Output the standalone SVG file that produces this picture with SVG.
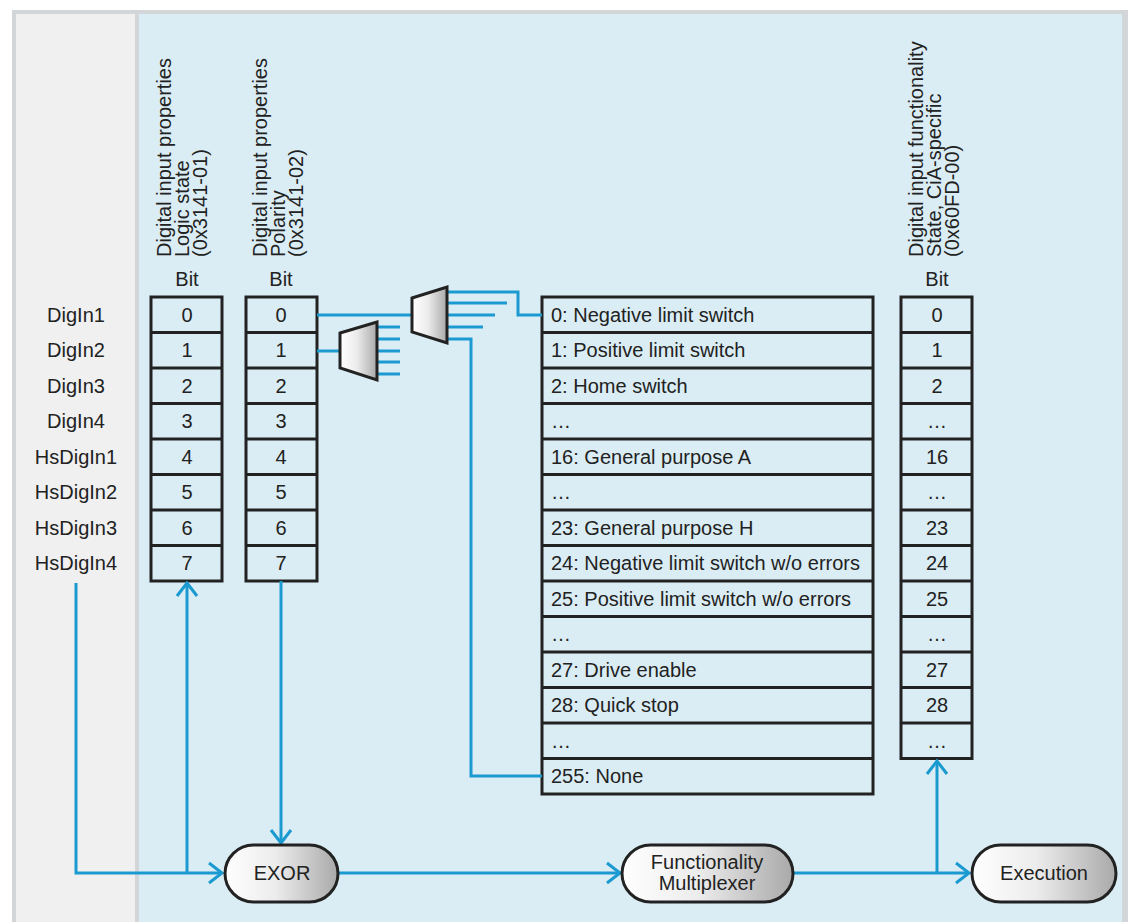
<svg xmlns="http://www.w3.org/2000/svg" width="1128" height="922" viewBox="0 0 1128 922">
<defs>
<linearGradient id="gShade" x1="0" y1="0" x2="1" y2="0">
<stop offset="0" stop-color="#ffffff"/>
<stop offset="0.45" stop-color="#ececec"/>
<stop offset="1" stop-color="#a9a9a9"/>
</linearGradient>
<marker id="arr" viewBox="-16 -13 19 26" markerWidth="19" markerHeight="26" refX="0" refY="0" orient="auto" markerUnits="userSpaceOnUse">
<path d="M-13,-10 L0,0 L-13,10" fill="none" stroke="#1a9ad0" stroke-width="3"/>
</marker>
<style>
text{font-family:"Liberation Sans",Arial,sans-serif;font-size:20px;fill:#222}
.c{text-anchor:middle}
.tbl{fill:none;stroke:#222;stroke-width:3}
.wire{fill:none;stroke:#1a9ad0;stroke-width:3}
.pill{fill:url(#gShade);stroke:#222;stroke-width:3}
</style>
</defs>

<!-- background -->
<rect x="12" y="10" width="1116" height="912" fill="#d3d6d8"/>
<rect x="16" y="14" width="119" height="908" fill="#f0f0f0"/>
<rect x="139" y="14" width="983" height="908" fill="#dbedf4"/>

<!-- rotated headers -->
<g id="hdr1">
<text transform="translate(171,257) rotate(-90)">Digital input properties<tspan x="0" dy="18">Logic state</tspan><tspan x="0" dy="18">(0x3141-01)</tspan></text>
<text class="c" x="187" y="286">Bit</text>
</g>
<g id="hdr2">
<text transform="translate(267,257) rotate(-90)">Digital input properties<tspan x="0" dy="18">Polarity</tspan><tspan x="0" dy="18">(0x3141-02)</tspan></text>
<text class="c" x="281" y="286">Bit</text>
</g>
<g id="hdr3">
<text transform="translate(923,257) rotate(-90)">Digital input functionality<tspan x="0" dy="18">State, CiA-specific</tspan><tspan x="0" dy="18">(0x60FD-00)</tspan></text>
<text class="c" x="937" y="286">Bit</text>
</g>

<!-- input labels -->
<g id="inputs">
<text class="c" x="76" y="322">DigIn1</text>
<text class="c" x="76" y="357">DigIn2</text>
<text class="c" x="76" y="393">DigIn3</text>
<text class="c" x="76" y="428">DigIn4</text>
<text class="c" x="76" y="464">HsDigIn1</text>
<text class="c" x="76" y="499">HsDigIn2</text>
<text class="c" x="76" y="535">HsDigIn3</text>
<text class="c" x="76" y="570">HsDigIn4</text>
</g>

<!-- table: logic state -->
<g id="tblLogic">
<rect class="tbl" x="151" y="297" width="71" height="284"/>
<path class="tbl" d="M151,332.5H222M151,368H222M151,403.5H222M151,439H222M151,474.5H222M151,510H222M151,545.5H222"/>
<text class="c" x="187" y="322">0</text>
<text class="c" x="187" y="357">1</text>
<text class="c" x="187" y="393">2</text>
<text class="c" x="187" y="428">3</text>
<text class="c" x="187" y="464">4</text>
<text class="c" x="187" y="499">5</text>
<text class="c" x="187" y="535">6</text>
<text class="c" x="187" y="570">7</text>
</g>

<!-- table: polarity -->
<g id="tblPolarity">
<rect class="tbl" x="246" y="297" width="71" height="284"/>
<path class="tbl" d="M246,332.5H317M246,368H317M246,403.5H317M246,439H317M246,474.5H317M246,510H317M246,545.5H317"/>
<text class="c" x="281" y="322">0</text>
<text class="c" x="281" y="357">1</text>
<text class="c" x="281" y="393">2</text>
<text class="c" x="281" y="428">3</text>
<text class="c" x="281" y="464">4</text>
<text class="c" x="281" y="499">5</text>
<text class="c" x="281" y="535">6</text>
<text class="c" x="281" y="570">7</text>
</g>

<!-- table: functions -->
<g id="tblFunctions">
<rect class="tbl" x="542" y="297" width="331" height="497"/>
<path class="tbl" d="M542,332.5H873M542,368H873M542,403.5H873M542,439H873M542,474.5H873M542,510H873M542,545.5H873M542,581H873M542,616.5H873M542,652H873M542,687.5H873M542,723H873M542,758.5H873"/>
<text x="551" y="322">0: Negative limit switch</text>
<text x="551" y="357">1: Positive limit switch</text>
<text x="551" y="393">2: Home switch</text>
<text x="551" y="428">…</text>
<text x="551" y="464">16: General purpose A</text>
<text x="551" y="499">…</text>
<text x="551" y="535">23: General purpose H</text>
<text x="551" y="570">24: Negative limit switch w/o errors</text>
<text x="551" y="606">25: Positive limit switch w/o errors</text>
<text x="551" y="641">…</text>
<text x="551" y="677">27: Drive enable</text>
<text x="551" y="712">28: Quick stop</text>
<text x="551" y="748">…</text>
<text x="551" y="783">255: None</text>
</g>

<!-- table: state bits -->
<g id="tblState">
<rect class="tbl" x="901" y="297" width="71" height="461.5"/>
<path class="tbl" d="M901,332.5H972M901,368H972M901,403.5H972M901,439H972M901,474.5H972M901,510H972M901,545.5H972M901,581H972M901,616.5H972M901,652H972M901,687.5H972M901,723H972"/>
<text class="c" x="937" y="322">0</text>
<text class="c" x="937" y="357">1</text>
<text class="c" x="937" y="393">2</text>
<text class="c" x="937" y="428">…</text>
<text class="c" x="937" y="464">16</text>
<text class="c" x="937" y="499">…</text>
<text class="c" x="937" y="535">23</text>
<text class="c" x="937" y="570">24</text>
<text class="c" x="937" y="606">25</text>
<text class="c" x="937" y="641">…</text>
<text class="c" x="937" y="677">27</text>
<text class="c" x="937" y="712">28</text>
<text class="c" x="937" y="748">…</text>
</g>

<!-- connectors -->
<g id="connectors">
<path class="wire" d="M317,315H412"/>
<path class="wire" d="M317,351H340"/>
<path class="wire" d="M447,292H518V315H542"/>
<path class="wire" d="M447,303H507M447,315H495M447,327H483"/>
<path class="wire" d="M447,339H471V776H542"/>
<path class="wire" d="M377,327H400M377,339H400M377,351H400M377,362H400M377,374H400"/>
<path class="wire" d="M76,583V873H222" marker-end="url(#arr)"/>
<path class="wire" d="M187,873V583" marker-end="url(#arr)"/>
<path class="wire" d="M281,581V843" marker-end="url(#arr)"/>
<path class="wire" d="M339,873H620" marker-end="url(#arr)"/>
<path class="wire" d="M793,873H969" marker-end="url(#arr)"/>
<path class="wire" d="M937,873V761" marker-end="url(#arr)"/>
</g>

<!-- multiplexers -->
<g id="mux1">
<polygon points="412,298 447,287 447,343 412,332" fill="url(#gShade)" stroke="#222" stroke-width="3" stroke-linejoin="miter"/>
</g>
<g id="mux2">
<polygon points="340,333 377,322 377,380 340,368" fill="url(#gShade)" stroke="#222" stroke-width="3"/>
</g>

<!-- process nodes -->
<g id="exor">
<rect class="pill" x="225" y="845" width="113" height="57" rx="28.5"/>
<text class="c" x="282" y="880">EXOR</text>
</g>
<g id="funcMux">
<rect class="pill" x="622" y="845" width="171" height="57" rx="28.5"/>
<text class="c" x="707" y="869">Functionality</text>
<text class="c" x="707" y="890">Multiplexer</text>
</g>
<g id="execution">
<rect class="pill" x="972" y="845" width="144" height="57" rx="28.5"/>
<text class="c" x="1044" y="880">Execution</text>
</g>
</svg>
